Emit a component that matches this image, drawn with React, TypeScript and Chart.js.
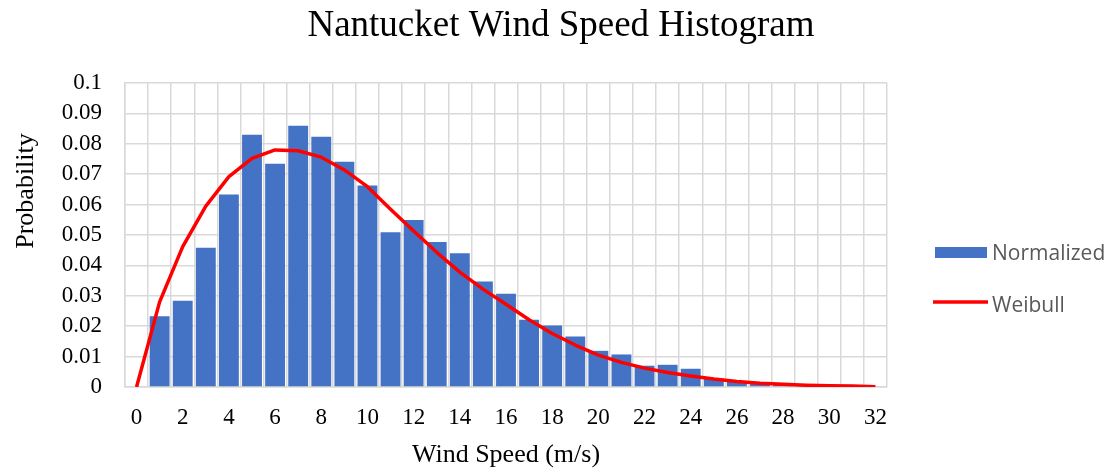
import React, { useEffect, useRef } from "react";
import { Chart, registerables } from "chart.js";

Chart.register(...registerables);

const windSpeeds: string[] = [
  "0", "1", "2", "3", "4", "5", "6", "7", "8", "9", "10",
  "11", "12", "13", "14", "15", "16", "17", "18", "19", "20",
  "21", "22", "23", "24", "25", "26", "27", "28", "29", "30",
  "31", "32",
];

const normalized: (number | null)[] = [
  null, 0.0233, 0.0284, 0.0458, 0.0633, 0.083, 0.0734, 0.0859, 0.0823, 0.0741, 0.0663,
  0.0509, 0.0549, 0.0477, 0.044, 0.0347, 0.0307, 0.0221, 0.0202, 0.0166, 0.0119,
  0.0107, 0.007, 0.0073, 0.006, 0.0028, 0.002, 0.0013, 0.0008, 0.0005, 0.0003,
  0.0002, null,
];

const weibull: number[] = [
  0, 0.028, 0.0462, 0.0595, 0.0692, 0.0752, 0.078, 0.0777, 0.0756, 0.0714, 0.0659,
  0.0585, 0.0513, 0.0443, 0.0378, 0.0322, 0.0272, 0.0221, 0.0176, 0.0138, 0.0105,
  0.0081, 0.0062, 0.0048, 0.0036, 0.0026, 0.0018, 0.0012, 0.0009, 0.0006, 0.0004,
  0.0003, 0.0001,
];

const chartTitle = "Nantucket Wind Speed Histogram";
const xTitle = "Wind Speed (m/s)";
const yTitle = "Probability";
const seriesNames = ["Normalized", "Weibull"];

const SERIF = "'Liberation Serif', 'Times New Roman', serif";
const SANS = "'Open Sans', 'Noto Sans', sans-serif";
const BLUE = "#4472C4";
const RED = "#FF0000";
const GRID = "#D9D9D9";

const extrasPlugin = {
  id: "extras",
  afterDraw(chart: any) {
    const { ctx, chartArea } = chart;
    ctx.save();
    // y-axis title
    ctx.font = `26px ${SERIF}`;
    ctx.fillStyle = "#000";
    ctx.textAlign = "center";
    ctx.textBaseline = "alphabetic";
    ctx.translate(33, 191);
    ctx.rotate(-Math.PI / 2);
    ctx.fillText(yTitle, 0, 0);
    ctx.restore();

    // legend
    ctx.save();
    const lx = chartArea.right + 48;
    const tx = chartArea.right + 105;
    const ds = chart.data.datasets;
    const barDs = ds.find((d: any) => d.type === "bar");
    const lineDs = ds.find((d: any) => d.type === "line");
    ctx.fillStyle = barDs.backgroundColor;
    ctx.fillRect(lx, 247, 52, 11);
    ctx.font = `21px ${SANS}`;
    ctx.fillStyle = "#595959";
    ctx.textAlign = "left";
    ctx.textBaseline = "alphabetic";
    ctx.fillText(barDs.label, tx, 260);
    ctx.strokeStyle = lineDs.borderColor;
    ctx.lineWidth = 3.5;
    ctx.beginPath();
    ctx.moveTo(lx - 2, 302);
    ctx.lineTo(lx + 53, 302);
    ctx.stroke();
    ctx.fillText(lineDs.label, tx, 311.5);
    ctx.restore();
  },
};

export default function App() {
  const canvasRef = useRef<HTMLCanvasElement | null>(null);

  useEffect(() => {
    if (!canvasRef.current) return;
    const chart = new Chart(canvasRef.current, {
      type: "bar",
      data: {
        labels: windSpeeds,
        datasets: [
          {
            type: "line",
            label: seriesNames[1],
            data: weibull,
            borderColor: RED,
            backgroundColor: RED,
            borderWidth: 3.5,
            pointRadius: 0,
            tension: 0,
            borderJoinStyle: "round",
            order: 0,
            xAxisID: "x",
            yAxisID: "y",
          } as any,
          {
            type: "bar",
            label: seriesNames[0],
            data: normalized,
            backgroundColor: BLUE,
            borderWidth: 0,
            barPercentage: 0.86,
            categoryPercentage: 1,
            order: 1,
            xAxisID: "x",
            yAxisID: "y",
          } as any,
        ],
      },
      options: {
        responsive: false,
        animation: false,
        devicePixelRatio: 1,
        layout: { padding: { left: 11, right: 0, top: 0, bottom: 0 } },
        plugins: {
          legend: { display: false },
          tooltip: { enabled: false },
          title: {
            display: true,
            text: chartTitle,
            color: "#000",
            font: { family: SERIF, size: 37, weight: "normal" },
            padding: { top: 4, bottom: 34.6 },
          },
        },
        scales: {
          x: {
            type: "category",
            offset: true,
            grid: { display: true, color: GRID, lineWidth: 1.5, offset: true, drawTicks: false },
            border: { display: true, color: GRID, width: 1.5 },
            ticks: {
              autoSkip: false,
              maxRotation: 0,
              minRotation: 0,
              padding: 17,
              color: "#000",
              font: { family: SERIF, size: 23 },
              callback: (_v: any, i: number) => (i % 2 === 0 ? windSpeeds[i] : ""),
            },
            title: {
              display: true,
              text: xTitle,
              color: "#000",
              font: { family: SERIF, size: 26 },
              padding: { top: 0, bottom: 1.5 },
            },
            afterFit: (s: any) => {
              s.height = 85;
            },
          },
          y: {
            type: "linear",
            position: "left",
            min: 0,
            max: 0.1,
            grid: { color: GRID, lineWidth: 1.5, drawTicks: false },
            border: { display: true, color: GRID, width: 1.5 },
            ticks: {
              stepSize: 0.01,
              autoSkip: false,
              padding: 23,
              color: "#000",
              font: { family: SERIF, size: 23 },
              callback: (v: any) => String(Number(Number(v).toFixed(2))),
            },
            afterFit: (s: any) => {
              s.width = 114;
            },
          },
          y2: {
            type: "linear",
            position: "right",
            display: true,
            grid: { display: false, drawTicks: false },
            border: { display: false },
            ticks: { display: false },
            afterFit: (s: any) => {
              s.width = 224;
            },
          },
        },
      } as any,
      plugins: [extrasPlugin],
    });
    return () => chart.destroy();
  }, []);

  return (
    <div style={{ position: "fixed", left: 0, top: 0, width: 1111, height: 472, background: "#fff" }}>
      <canvas ref={canvasRef} width={1111} height={472} style={{ display: "block" }} />
    </div>
  );
}
